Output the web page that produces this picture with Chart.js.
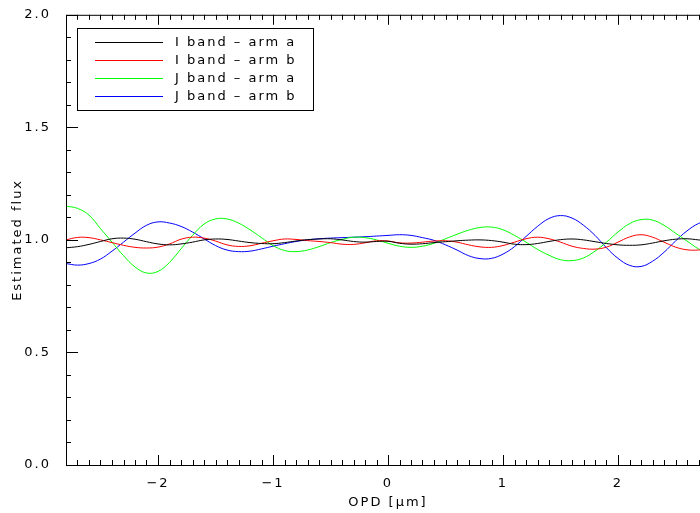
<!DOCTYPE html>
<html>
<head>
<meta charset="utf-8">
<script src="https://cdn.jsdelivr.net/npm/chart.js@4"></script>
<style>
  html, body { margin: 0; padding: 0; background: #fff; overflow: hidden; }
  #wrap { width: 712px; height: 513px; }
</style>
</head>
<body>
<div id="wrap"><canvas id="fluxChart" width="712" height="513"></canvas></div>
<script>
// OPD positions [um]
const opd = [-2.8, -2.7, -2.6, -2.5, -2.4, -2.3, -2.2, -2.1, -2.0, -1.9,
  -1.8, -1.7, -1.6, -1.5, -1.4, -1.3, -1.2, -1.1, -1.0, -0.9,
  -0.8, -0.7, -0.6, -0.5, -0.4, -0.3, -0.2, -0.1, 0.0, 0.1,
  0.2, 0.3, 0.4, 0.5, 0.6, 0.7, 0.8, 0.9, 1.0, 1.1,
  1.2, 1.3, 1.4, 1.5, 1.6, 1.7, 1.8, 1.9, 2.0, 2.1,
  2.2, 2.3, 2.4, 2.5, 2.6, 2.7, 2.8];

const iBandArmA = [0.965, 0.970, 0.980, 0.993, 1.005, 1.008, 1.003, 0.992, 0.982, 0.978,
  0.982, 0.990, 1.000, 1.004, 1.002, 0.995, 0.988, 0.984, 0.983, 0.988,
  0.995, 1.001, 1.004, 1.005, 1.000, 0.993, 0.990, 0.993, 0.994, 0.985,
  0.981, 0.983, 0.988, 0.992, 0.996, 0.999, 1.000, 0.997, 0.990, 0.981,
  0.979, 0.984, 0.993, 1.001, 1.004, 1.000, 0.992, 0.984, 0.978, 0.976,
  0.978, 0.986, 0.996, 1.003, 1.005, 1.000, 0.995];

const iBandArmB = [1.000, 1.011, 1.010, 1.000, 0.988, 0.976, 0.967, 0.964, 0.968, 0.982,
  1.003, 1.012, 1.008, 0.995, 0.978, 0.971, 0.974, 0.985, 0.996, 1.004,
  1.002, 0.997, 0.993, 0.988, 0.981, 0.980, 0.987, 0.996, 0.995, 0.987,
  0.986, 0.990, 0.995, 0.996, 0.990, 0.978, 0.969, 0.967, 0.975, 0.990,
  1.005, 1.012, 1.005, 0.990, 0.972, 0.962, 0.959, 0.968, 0.990, 1.013,
  1.023, 1.012, 0.990, 0.968, 0.956, 0.955, 0.960];

const jBandArmA = [1.150, 1.140, 1.110, 1.050, 0.990, 0.930, 0.880, 0.853, 0.860, 0.900,
  0.960, 1.020, 1.070, 1.093, 1.093, 1.075, 1.045, 1.010, 0.975, 0.953,
  0.948, 0.955, 0.970, 0.988, 1.002, 1.012, 1.010, 1.000, 0.985, 0.972,
  0.967, 0.972, 0.985, 1.005, 1.025, 1.043, 1.055, 1.057, 1.045, 1.020,
  0.990, 0.958, 0.932, 0.912, 0.908, 0.920, 0.950, 0.990, 1.035, 1.072,
  1.090, 1.088, 1.065, 1.030, 0.995, 0.960, 0.935];

const jBandArmB = [0.895, 0.888, 0.895, 0.915, 0.950, 0.990, 1.030, 1.065, 1.080, 1.075,
  1.060, 1.035, 1.005, 0.975, 0.955, 0.948, 0.950, 0.960, 0.972, 0.983,
  0.993, 1.000, 1.005, 1.008, 1.010, 1.012, 1.014, 1.017, 1.020, 1.023,
  1.020, 1.010, 0.998, 0.978, 0.955, 0.930, 0.917, 0.918, 0.937, 0.970,
  1.015, 1.060, 1.095, 1.108, 1.097, 1.065, 1.020, 0.965, 0.918, 0.887,
  0.882, 0.905, 0.945, 0.995, 1.040, 1.073, 1.090];

const seriesNames = ['I band \u2013 arm a', 'I band \u2013 arm b', 'J band \u2013 arm a', 'J band \u2013 arm b'];
const seriesColors = ['#000000', '#ff0000', '#00ff00', '#0000ff'];
const xTicks = [-2, -1, 0, 1, 2];
const yTicks = [0.0, 0.5, 1.0, 1.5, 2.0];

const FONT = 'DejaVu Sans';
const SPACING = '2px';

// IDL style box: inward major/minor ticks and the framed legend
const idlAxes = {
    id: 'idlAxes',
    beforeDraw(chart) {
        chart.ctx.letterSpacing = SPACING;
    },
    afterDraw(chart) {
        const { ctx, chartArea: a, scales: { x, y } } = chart;
        ctx.save();
        ctx.strokeStyle = '#000';
        ctx.lineWidth = 1;
        ctx.beginPath();
        ctx.moveTo(a.left + 0.5, a.bottom + 0.5);
        ctx.lineTo(a.left + 0.5, a.top + 0.5);
        ctx.lineTo(a.right, a.top + 0.5);
        ctx.moveTo(a.left, a.bottom + 0.5);
        ctx.lineTo(a.right, a.bottom + 0.5);

        // x ticks every 0.1, major every 1
        for (let i = -28; i <= 28; i++) {
            const px = Math.round(x.getPixelForValue(i / 10)) + 0.5;
            const len = (i % 10 === 0) ? 10 : 5;
            ctx.moveTo(px, a.bottom); ctx.lineTo(px, a.bottom - len);
            ctx.moveTo(px, a.top); ctx.lineTo(px, a.top + len);
        }
        // y ticks every 0.1, major every 0.5
        for (let j = 0; j <= 20; j++) {
            const py = Math.round(y.getPixelForValue(j / 10)) + 0.5;
            const len = (j % 5 === 0) ? 12 : 5;
            ctx.moveTo(a.left, py); ctx.lineTo(a.left + len, py);
        }
        ctx.stroke();

        // legend
        const bx = 77.5, by = 28.5, bw = 236, bh = 82;
        ctx.fillStyle = '#fff';
        ctx.fillRect(bx, by, bw, bh);
        ctx.strokeRect(bx, by, bw, bh);
        ctx.font = '13px "' + FONT + '"';
        ctx.letterSpacing = SPACING;
        ctx.textBaseline = 'middle';
        ctx.textAlign = 'left';
        chart.data.datasets.forEach((ds, k) => {
            const ry = 42.5 + k * 18;
            ctx.strokeStyle = ds.borderColor;
            ctx.beginPath();
            ctx.moveTo(95, ry); ctx.lineTo(163, ry);
            ctx.stroke();
            ctx.fillStyle = '#000';
            ctx.fillText(ds.label, 175, ry);
        });
        ctx.restore();
    }
};

const minusFmt = v => (v < 0 ? '\u2212' + Math.abs(v) : String(v));

new Chart(document.getElementById('fluxChart'), {
    type: 'line',
    data: {
        datasets: seriesNames.map((name, k) => ({
            label: name,
            data: opd.map((o, i) => ({ x: o, y: [iBandArmA, iBandArmB, jBandArmA, jBandArmB][k][i] })),
            borderColor: seriesColors[k],
            borderWidth: 1,
            pointRadius: 0,
            fill: false,
            tension: 0.4
        }))
    },
    options: {
        responsive: false,
        animation: false,
        devicePixelRatio: 1,
        layout: { padding: { top: 12, right: 2, left: 0, bottom: 0 } },
        plugins: {
            legend: { display: false },
            tooltip: { enabled: false }
        },
        scales: {
            x: {
                type: 'linear',
                min: -2.8,
                max: 2.8,
                grid: { display: false },
                border: { display: false },
                afterBuildTicks: s => { s.ticks = xTicks.map(v => ({ value: v })); },
                afterFit: s => { s.height = 48; },
                ticks: {
                    color: '#000',
                    padding: 3,
                    maxRotation: 0,
                    font: { family: FONT, size: 13 },
                    callback: v => minusFmt(v)
                },
                title: {
                    display: true,
                    text: 'OPD [\u03bcm]',
                    color: '#000',
                    font: { family: FONT, size: 13 },
                    padding: { top: 0, bottom: 3 }
                }
            },
            y: {
                type: 'linear',
                min: 0,
                max: 2,
                grid: { display: false },
                border: { display: false },
                afterBuildTicks: s => { s.ticks = yTicks.map(v => ({ value: v })); },
                afterFit: s => { s.width = 66; },
                ticks: {
                    color: '#000',
                    padding: 7,
                    font: { family: FONT, size: 13 },
                    callback: v => v.toFixed(1)
                },
                title: {
                    display: true,
                    text: 'Estimated flux',
                    color: '#000',
                    font: { family: FONT, size: 13 },
                    padding: { top: 10, bottom: 0 }
                }
            }
        }
    },
    plugins: [idlAxes]
});
</script>
</body>
</html>
